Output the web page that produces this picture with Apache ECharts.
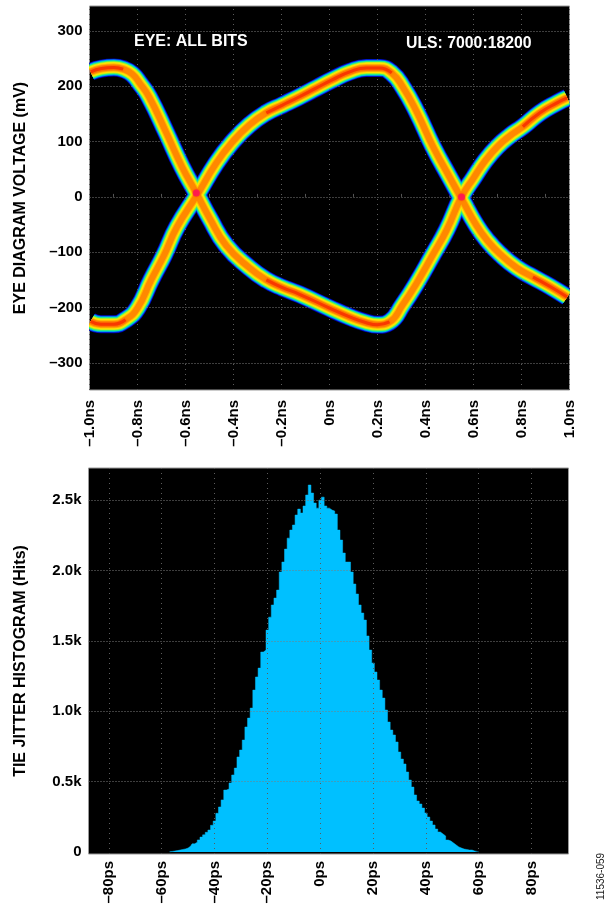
<!DOCTYPE html>
<html>
<head>
<meta charset="utf-8">
<script src="https://cdn.jsdelivr.net/npm/echarts@6/dist/echarts.min.js"></script>
<style>html,body{margin:0;padding:0;background:#fff}#c{width:608px;height:908px}</style>
</head>
<body>
<div id="c"></div>
<script>
const traceATime = [-0.995,-0.95,-0.898,-0.86,-0.822,-0.79,-0.752,-0.68,-0.614,-0.555,-0.5,-0.43,-0.334,-0.263,-0.196,-0.125,0,0.084,0.15,0.2,0.25,0.305,0.363,0.43,0.488,0.55,0.6,0.65,0.7,0.75,0.806,0.877,0.948,0.99];
const traceAVolt = [226,232,234,231,222,205,181,116,54,7,-38,-88,-128,-150,-164,-176,-201,-217,-227,-231,-226,-195,-156,-105,-60,0,34,66,91,110,127,152,170,179];
const traceBTime = [-0.995,-0.953,-0.898,-0.85,-0.8,-0.743,-0.689,-0.635,-0.551,-0.472,-0.405,-0.334,-0.263,-0.196,-0.125,-0.054,0.013,0.084,0.154,0.209,0.259,0.305,0.363,0.43,0.5,0.551,0.613,0.66,0.71,0.78,0.848,0.919,0.99];
const traceBVolt = [-225,-230,-230,-222,-201,-150,-105,-54,4,61,99,130,152,166,181,197,212,226,233,233,224,199,154,92,36,-4,-52,-80,-103,-128,-145,-162,-181];
const crossTime = [-0.555,0.55];
const crossVolt = [7,0];
const redRanges = [[-1,-0.84],[-0.28,0.27],[0.8,1]];
const eyeXTicks = [-1,-0.8,-0.6,-0.4,-0.2,0,0.2,0.4,0.6,0.8,1];
const eyeXLabels = ['–1.0ns','–0.8ns','–0.6ns','–0.4ns','–0.2ns','0ns','0.2ns','0.4ns','0.6ns','0.8ns','1.0ns'];
const eyeYTicks = [-300,-200,-100,0,100,200,300];
const eyeYLabels = ['–300','–200','–100','0','100','200','300'];
const histXTicks = [-80,-60,-40,-20,0,20,40,60,80];
const histXLabels = ['–80ps','–60ps','–40ps','–20ps','0ps','20ps','40ps','60ps','80ps'];
const histYTicks = [0,500,1000,1500,2000,2500];
const histYLabels = ['0','0.5k','1.0k','1.5k','2.0k','2.5k'];
const histBinPs = [-57,-56,-55,-54,-53,-52,-51,-50,-49,-48,-47,-46,-45,-44,-43,-42,-41,-40,-39,-38,-37,-36,-35,-34,-33,-32,-31,-30,-29,-28,-27,-26,-25,-24,-23,-22,-21,-20,-19,-18,-17,-16,-15,-14,-13,-12,-11,-10,-9,-8,-7,-6,-5,-4,-3,-2,-1,0,1,2,3,4,5,6,7,8,9,10,11,12,13,14,15,16,17,18,19,20,21,22,23,24,25,26,27,28,29,30,31,32,33,34,35,36,37,38,39,40,41,42,43,44,45,46,47,48,49,50,51,52,53,54,55,56,57,58,59,60];
const histHits = [2,4,7,10,14,18,22,28,42,58,70,86,106,122,140,156,190,220,275,320,370,440,447,490,547,596,675,724,795,888,951,1022,1150,1243,1306,1420,1434,1576,1668,1754,1803,1860,1988,2059,2151,2229,2286,2322,2393,2435,2407,2457,2535,2606,2549,2478,2442,2499,2520,2457,2442,2428,2421,2400,2286,2215,2123,2059,2059,1988,1903,1832,1754,1697,1647,1534,1434,1342,1278,1221,1150,1093,1008,923,866,831,781,710,660,625,568,511,461,405,362,341,312,277,248,220,192,163,142,128,114,85,78,64,50,36,28,21,18,14,14,7,4,2];

const FONT = '"Liberation Sans", Arial, sans-serif';
const layers = [
  {w:18, c:'#0000a8'},
  {w:16.8, c:'#0038f0'},
  {w:15.6, c:'#0098f0'},
  {w:14.4, c:'#00e0c0'},
  {w:13.2, c:'#40f070'},
  {w:11.8, c:'#c0f020'},
  {w:10.2, c:'#ffe800'},
  {w:8, c:'#ffb800'},
  {w:6, c:'#ff8800'}
];
const zip = (a,b)=>a.map((v,i)=>[v,b[i]]);
const traces = [zip(traceATime,traceAVolt), zip(traceBTime,traceBVolt)];
const lookup = (ticks,labels)=>v=>{const i=ticks.findIndex(t=>Math.abs(t-v)<1e-6);return i<0?'':labels[i];};

function gridLines(xi,yi,xs,ys){
  return {type:'line',xAxisIndex:xi,yAxisIndex:yi,data:[],silent:true,z:1,
    markLine:{silent:true,symbol:'none',animation:false,label:{show:false},emphasis:{disabled:true},
      data:[
        ...xs.map(v=>({xAxis:v,lineStyle:{color:'#5c5c5c',width:1,type:[1,4]}})),
        ...ys.map(v=>({yAxis:v,lineStyle:{color:'#7c7c7c',width:1,type:[1,2]}}))
      ]}};
}
const series = [gridLines(0,0,eyeXTicks,eyeYTicks), gridLines(1,1,histXTicks,histYTicks.slice(1))];
layers.forEach((l,li)=>traces.forEach(tr=>series.push({
  type:'line',xAxisIndex:0,yAxisIndex:0,data:tr,smooth:0.5,showSymbol:false,silent:true,
  animation:false,z:2+li,lineStyle:{width:l.w,color:l.c,cap:'butt',join:'round'}
})));
redRanges.forEach(r=>traces.forEach(tr=>series.push({
  type:'line',xAxisIndex:0,yAxisIndex:0,data:tr.filter(p=>p[0]>=r[0]&&p[0]<=r[1]),smooth:0.5,showSymbol:false,silent:true,
  animation:false,z:20,lineStyle:{width:3,color:'#f83800',cap:'butt',shadowBlur:3,shadowColor:'#ff5000'}
})));
series.push({type:'scatter',xAxisIndex:0,yAxisIndex:0,data:zip(crossTime,crossVolt),symbolSize:7,silent:true,animation:false,z:21,
  itemStyle:{color:'#ff1060',shadowBlur:2,shadowColor:'#ff3000'}});
series.push({type:'line',xAxisIndex:1,yAxisIndex:1,data:zip(histBinPs,histHits),step:'middle',showSymbol:false,silent:true,animation:false,z:3,
  lineStyle:{width:0.5,color:'#00c0ff'},areaStyle:{color:'#00c0ff',opacity:1}});

const lab = {color:'#000',fontFamily:FONT,fontWeight:'bold',fontSize:15};
const grid = {show:true,backgroundColor:'#000',borderColor:'#999',borderWidth:1,containLabel:false};
const option = {
  backgroundColor:'#fff',animation:false,
  grid:[
    {...grid,left:89.5,top:6,width:480,height:384},
    {...grid,left:88.5,top:468,width:480,height:386}
  ],
  xAxis:[
    {type:'value',gridIndex:0,min:-1,max:1,splitLine:{show:false},axisLine:{show:false},
     axisTick:{show:true,inside:true,length:3,lineStyle:{color:'#555'},customValues:[-0.9,-0.7,-0.5,-0.3,-0.1,0.1,0.3,0.5,0.7,0.9]},
     axisLabel:{...lab,customValues:eyeXTicks,rotate:90,margin:10,hideOverlap:false,showMinLabel:true,showMaxLabel:true,formatter:lookup(eyeXTicks,eyeXLabels)}},
    {type:'value',gridIndex:1,min:-87.7,max:94,splitLine:{show:false},axisLine:{show:false},axisTick:{show:false},
     axisLabel:{...lab,customValues:histXTicks,rotate:90,margin:7,hideOverlap:false,formatter:lookup(histXTicks,histXLabels)}}
  ],
  yAxis:[
    {type:'value',gridIndex:0,min:-349,max:345,splitLine:{show:false},axisLine:{show:false},axisTick:{show:false},
     name:'EYE DIAGRAM VOLTAGE (mV)',nameLocation:'middle',nameGap:61,nameRotate:90,nameTextStyle:{...lab,fontSize:16},
     axisLabel:{...lab,customValues:eyeYTicks,margin:7,hideOverlap:false,formatter:lookup(eyeYTicks,eyeYLabels)}},
    {type:'value',gridIndex:1,min:-14,max:2727,splitLine:{show:false},axisLine:{show:false},axisTick:{show:false},
     name:'TIE JITTER HISTOGRAM (Hits)',nameLocation:'middle',nameGap:60,nameRotate:90,nameTextStyle:{...lab,fontSize:16},
     axisLabel:{...lab,customValues:histYTicks,margin:7,hideOverlap:false,formatter:lookup(histYTicks,histYLabels)}}
  ],
  series,
  graphic:[
    {type:'rect',silent:true,z:50,shape:{x:83,y:6,width:6,height:385},style:{fill:'#fff'}},
    {type:'rect',silent:true,z:50,shape:{x:570,y:6,width:10,height:385},style:{fill:'#fff'}},
    {type:'text',left:134,top:34,silent:true,z:100,style:{text:'EYE: ALL BITS',fill:'#fff',font:'bold 16px '+FONT}},
    {type:'text',left:406,top:36,silent:true,z:100,style:{text:'ULS: 7000:18200',fill:'#fff',font:'bold 15.8px '+FONT}},
    {type:'text',x:596,y:900,rotation:Math.PI/2,silent:true,z:100,style:{text:'11536-059',fill:'#222',font:'10px '+FONT}}
  ]
};
echarts.init(document.getElementById('c'),null,{renderer:'canvas'}).setOption(option);
</script>
</body>
</html>
